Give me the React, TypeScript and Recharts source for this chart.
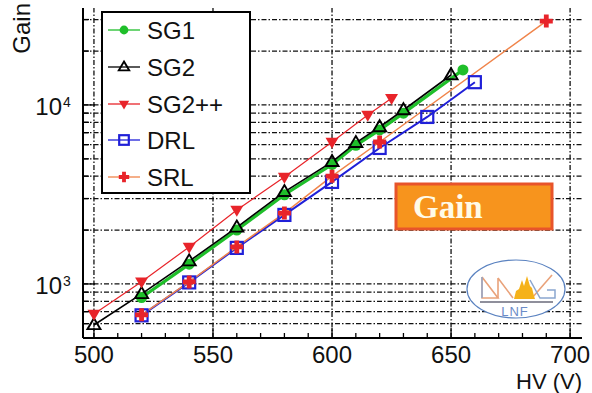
import React from 'react';
import { LineChart, Line, XAxis, YAxis, ReferenceLine } from 'recharts';

// ---------- data ----------
const seriesNames = ['SG1', 'SG2', 'SG2++', 'DRL', 'SRL'];

const sg1HV = [520, 540, 560, 580, 600, 610, 620, 630, 655];
const sg1Gain = [840, 1290, 2000, 3150, 4650, 5950, 7250, 9000, 15700];

const sg2HV = [500, 520, 540, 560, 580, 600, 610, 620, 630, 650];
const sg2Gain = [590, 880, 1340, 2070, 3270, 4810, 6140, 7530, 9370, 14700];

const sg2ppHV = [500, 520, 540, 560, 580, 600, 615, 625];
const sg2ppGain = [680, 1030, 1610, 2590, 3960, 6210, 8790, 10900];

const drlHV = [520, 540, 560, 580, 600, 620, 640, 660];
const drlGain = [668, 1020, 1590, 2430, 3715, 5750, 8570, 13400];

const srlHV = [520, 540, 560, 580, 600, 620, 690];
const srlGain = [672, 1026, 1611, 2490, 4000, 6210, 29400];

const xMajorTicks = [500, 550, 600, 650, 700];
const xAllTicks = [500, 510, 520, 530, 540, 550, 560, 570, 580, 590, 600, 610, 620, 630, 640, 650, 660, 670, 680, 690, 700];
const yAllTicks = [500, 600, 700, 800, 900, 1000, 2000, 3000, 4000, 5000, 6000, 7000, 8000, 9000, 10000, 20000, 30000];
const yLabelValues = [1000, 10000];
const yLabelBase = ['10', '10'];
const yLabelExp = ['3', '4'];
const xDomain = [495.4, 705];
const yDomain = [499, 34800];
const xTitle = 'HV (V)';
const yTitle = 'Gain';
const boxText = 'Gain';
const logoText = 'LNF';

const toRows = (hv: number[], g: number[]) => hv.map((v, i) => ({ v, g: g[i] }));

const FONT = '"Liberation Sans", Arial, Helvetica, sans-serif';

const COLORS = {
  SG1: '#1fbf2a',
  SG2: '#000000',
  'SG2++': '#e8242a',
  DRL: '#2020d8',
  SRLline: '#f0844a',
  SRLmark: '#e8242a',
};

// ---------- markers ----------
function Marker({ kind, cx, cy, s = 1 }: { kind: string; cx: number; cy: number; s?: number }) {
  if (cx == null || cy == null || isNaN(cx) || isNaN(cy)) return null;
  if (kind === 'SG1') {
    return <circle cx={cx} cy={cy} r={5.5 * s} fill={COLORS.SG1} />;
  }
  if (kind === 'SG2') {
    const h = 11 * s;
    const w = 13 * s;
    return (
      <path
        d={`M${cx},${cy - h * 0.62} L${cx + w / 2},${cy + h * 0.38} L${cx - w / 2},${cy + h * 0.38} Z`}
        fill="none"
        stroke="#000"
        strokeWidth={1.9}
        strokeLinejoin="miter"
      />
    );
  }
  if (kind === 'SG2++') {
    const h = 11 * s;
    const w = 13 * s;
    return (
      <path
        d={`M${cx},${cy + h * 0.62} L${cx + w / 2},${cy - h * 0.38} L${cx - w / 2},${cy - h * 0.38} Z`}
        fill={COLORS['SG2++']}
      />
    );
  }
  if (kind === 'DRL') {
    const a = 12 * s;
    return (
      <rect x={cx - a / 2} y={cy - a / 2} width={a} height={a} fill="none" stroke={COLORS.DRL} strokeWidth={2.2} />
    );
  }
  // SRL full cross
  const L = 6.5 * s;
  const t = 2.4 * s;
  return (
    <path
      d={`M${cx - t},${cy - L} L${cx + t},${cy - L} L${cx + t},${cy - t} L${cx + L},${cy - t} L${cx + L},${cy + t} L${cx + t},${cy + t} L${cx + t},${cy + L} L${cx - t},${cy + L} L${cx - t},${cy + t} L${cx - L},${cy + t} L${cx - L},${cy - t} L${cx - t},${cy - t} Z`}
      fill={COLORS.SRLmark}
    />
  );
}

const dotFor = (kind: string) => (p: any) => <Marker key={`${kind}-${p.index}`} kind={kind} cx={p.cx} cy={p.cy} />;

// ---------- ticks ----------
const XTickBottom = (props: any) => {
  const { x, y, payload } = props;
  const v = payload.value;
  const major = xMajorTicks.includes(v);
  return (
    <g>
      <line x1={x} x2={x} y1={y} y2={y - (major ? 10 : 5)} stroke="#000" strokeWidth={1.3} />
      {major && (
        <text x={x} y={y + 25} textAnchor="middle" fontSize={24} fontFamily={FONT} fill="#111">
          {v}
        </text>
      )}
    </g>
  );
};

const XTickTop = (props: any) => {
  const { x, y, payload } = props;
  const major = xMajorTicks.includes(payload.value);
  return <line x1={x} x2={x} y1={y} y2={y + (major ? 10 : 5)} stroke="#000" strokeWidth={1.3} />;
};

const YTickLeft = (props: any) => {
  const { x, y, payload } = props;
  const v = payload.value;
  const idx = yLabelValues.indexOf(v);
  const major = idx >= 0;
  return (
    <g>
      <line x1={x} x2={x + (major ? 12 : 6)} y1={y} y2={y} stroke="#000" strokeWidth={1.3} />
      {major && (
        <g fontFamily={FONT} fill="#111">
          <text x={x - 21} y={y + 10} textAnchor="end" fontSize={24}>
            {yLabelBase[idx]}
          </text>
          <text x={x - 20} y={y + 2} textAnchor="start" fontSize={14}>
            {yLabelExp[idx]}
          </text>
        </g>
      )}
    </g>
  );
};

const YTickRight = (props: any) => {
  const { x, y, payload } = props;
  const major = yLabelValues.includes(payload.value);
  return <line x1={x} x2={x - (major ? 12 : 6)} y1={y} y2={y} stroke="#000" strokeWidth={1.3} />;
};

const GRID = { stroke: '#111', strokeWidth: 1.3, strokeDasharray: '5 2 1.5 2' };

// ---------- legend ----------
const legendKinds = ['SG1', 'SG2', 'SG2++', 'DRL', 'SRL'];
const legendLineColor: Record<string, string> = {
  SG1: COLORS.SG1,
  SG2: '#000',
  'SG2++': COLORS['SG2++'],
  DRL: COLORS.DRL,
  SRL: COLORS.SRLline,
};
const legendY = [30, 67, 104, 140, 177];

export default function App() {
  return (
    <div style={{ position: 'absolute', left: 0, top: 0, width: 592, height: 393, background: '#fff' }}>
      <LineChart
        width={592}
        height={393}
        margin={{ top: 8, right: 10, bottom: 0, left: 0 }}
        style={{ position: 'absolute', left: 0, top: 0 }}
      >
        <XAxis
          xAxisId={0}
          type="number"
          dataKey="v"
          domain={xDomain}
          allowDataOverflow
          ticks={xAllTicks}
          interval={0}
          tickSize={0}
          tickMargin={0}
          height={55}
          tick={<XTickBottom />}
          axisLine={{ stroke: '#000', strokeWidth: 2 }}
          tickLine={false}
        />
        <XAxis
          xAxisId="t"
          orientation="top"
          type="number"
          dataKey="v"
          domain={xDomain}
          allowDataOverflow
          ticks={xAllTicks}
          interval={0}
          tickSize={0}
          tickMargin={0}
          height={0}
          tick={<XTickTop />}
          axisLine={{ stroke: '#000', strokeWidth: 2 }}
          tickLine={false}
        />
        <YAxis
          yAxisId={0}
          type="number"
          scale="log"
          domain={yDomain}
          allowDataOverflow
          ticks={yAllTicks}
          interval={0}
          tickSize={0}
          tickMargin={0}
          width={83}
          tick={<YTickLeft />}
          axisLine={{ stroke: '#000', strokeWidth: 2 }}
          tickLine={false}
        />
        <YAxis
          yAxisId="r"
          orientation="right"
          type="number"
          scale="log"
          domain={yDomain}
          allowDataOverflow
          ticks={yAllTicks}
          interval={0}
          tickSize={0}
          tickMargin={0}
          width={0}
          tick={<YTickRight />}
          axisLine={{ stroke: '#000', strokeWidth: 2 }}
          tickLine={false}
        />

        {yAllTicks.slice(1).map((t) => (
          <ReferenceLine key={`h${t}`} y={t} {...GRID} />
        ))}
        {xMajorTicks.map((t) => (
          <ReferenceLine key={`v${t}`} x={t} {...GRID} />
        ))}

        <Line
          data={toRows(sg1HV, sg1Gain)}
          dataKey="g"
          name={seriesNames[0]}
          stroke={COLORS.SG1}
          strokeWidth={3.2}
          dot={dotFor('SG1')}
          activeDot={false}
          isAnimationActive={false}
        />
        <Line
          data={toRows(sg2HV, sg2Gain)}
          dataKey="g"
          name={seriesNames[1]}
          stroke="#000"
          strokeWidth={1.6}
          dot={dotFor('SG2')}
          activeDot={false}
          isAnimationActive={false}
        />
        <Line
          data={toRows(sg2ppHV, sg2ppGain)}
          dataKey="g"
          name={seriesNames[2]}
          stroke={COLORS['SG2++']}
          strokeWidth={1.2}
          dot={dotFor('SG2++')}
          activeDot={false}
          isAnimationActive={false}
        />
        <Line
          data={toRows(drlHV, drlGain)}
          dataKey="g"
          name={seriesNames[3]}
          stroke={COLORS.DRL}
          strokeWidth={2}
          dot={dotFor('DRL')}
          activeDot={false}
          isAnimationActive={false}
        />
        <Line
          data={toRows(srlHV, srlGain)}
          dataKey="g"
          name={seriesNames[4]}
          stroke={COLORS.SRLline}
          strokeWidth={1.5}
          dot={dotFor('SRL')}
          activeDot={false}
          isAnimationActive={false}
        />
      </LineChart>

      <svg
        width={592}
        height={393}
        style={{ position: 'absolute', left: 0, top: 0, pointerEvents: 'none' }}
      >
        {/* axis titles */}
        <text
          x={30}
          y={3}
          transform="rotate(-90 30 3)"
          textAnchor="end"
          fontSize={24}
          fontFamily={FONT}
          fill="#111"
        >
          {yTitle}
        </text>
        <text x={582} y={389} textAnchor="end" fontSize={22} fontFamily={FONT} fill="#111">
          {xTitle}
        </text>

        {/* legend */}
        <rect x={102} y={12} width={148} height={181} fill="#fff" stroke="#000" strokeWidth={2} />
        {legendKinds.map((k, i) => (
          <g key={k}>
            <line x1={108} x2={140} y1={legendY[i]} y2={legendY[i]} stroke={legendLineColor[k]} strokeWidth={1.3} />
            <Marker kind={k} cx={124} cy={legendY[i]} s={0.8} />
            <text x={147} y={legendY[i] + 9} fontSize={24} fontFamily={FONT} fill="#111">
              {seriesNames[i]}
            </text>
          </g>
        ))}

        {/* Gain box */}
        <rect x={396} y={184} width={156} height={45} fill="#f7941d" stroke="#e8542a" strokeWidth={3} />
        <text
          x={413}
          y={218}
          fontSize={33}
          fontWeight="bold"
          fontFamily='"Liberation Serif", "DejaVu Serif", serif'
          fill="#fffbe8"
        >
          {boxText}
        </text>

        {/* logo */}
        <ellipse cx={516} cy={289} rx={49} ry={29} fill="#fff" stroke="#5a82c0" strokeWidth={1.2} />
        <g fill="none" stroke="#e9a27a" strokeWidth={1.6}>
          <path d="M482,277 L482,298 L498,298 L482,277" />
          <path d="M498,278 L498,298 M498,278 L513,298" />
          <path d="M532,298 L552,275" />
        </g>
        <path d="M482,277 L482,298" fill="none" stroke="#8aa6cf" strokeWidth={1.4} />
        <path d="M530,280 L540,298 L555,298 L555,290 L547,290" fill="none" stroke="#8aa6cf" strokeWidth={1.5} />
        <path
          d="M514,299 L516,291 L519,289 L522,280 L524,286 L527,276 L530,286 L532,288 L534,296 L535,299 Z"
          fill="#f5b21a"
        />
        <line x1={480} x2={553} y1={302} y2={302} stroke="#6a6a7a" strokeWidth={1.6} />
        <text
          x={515}
          y={316}
          textAnchor="middle"
          fontSize={13}
          letterSpacing={1}
          fontFamily={FONT}
          fill="#6c8cc8"
        >
          {logoText}
        </text>
      </svg>
    </div>
  );
}
